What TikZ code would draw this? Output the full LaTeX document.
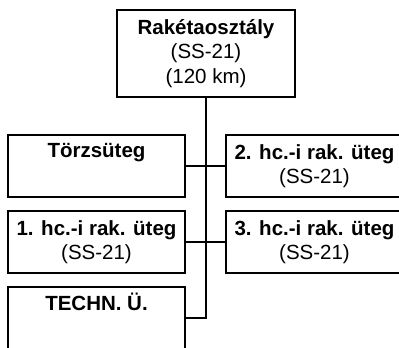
\documentclass[tikz,border=0pt]{standalone}
\usepackage{fontspec}
\setmainfont{Liberation Sans}
\begin{document}
\begin{tikzpicture}[x=1pt,y=-1pt,
  unitbox/.style={draw,line width=2pt,minimum width=177pt,minimum height=62pt,inner sep=0pt,align=center,
    font=\fontsize{20.5}{24.5}\selectfont,execute at begin node={\rule{0pt}{23pt}}},
  topbox/.style={unitbox,minimum width=178pt,minimum height=87pt},
  link/.style={line width=2pt}]
\useasboundingbox (0,0) rectangle (399,348);
\node[topbox] (top) at (206,53.5) {\textbf{Rakétaosztály}\\(SS-21)\\(120 km)};
\node[unitbox] (torzs) at (96.5,166) {\textbf{Törzsüteg}\\\strut};
\node[unitbox] (hc2) at (314.5,166) {\textbf{2. hc.-i rak. üteg}\\(SS-21)};
\node[unitbox] (hc1) at (96.5,242) {\textbf{1. hc.-i rak. üteg}\\(SS-21)};
\node[unitbox] (hc3) at (314.5,242) {\textbf{3. hc.-i rak. üteg}\\(SS-21)};
\node[unitbox] (techn) at (96.5,318) {\textbf{TECHN. Ü.}\\\strut};
\draw[link] (top.south) -- (top.south |- techn.east) -- (techn.east);
\draw[link] (torzs.east) -- (hc2.west);
\draw[link] (hc1.east) -- (hc3.west);
\end{tikzpicture}
\end{document}
